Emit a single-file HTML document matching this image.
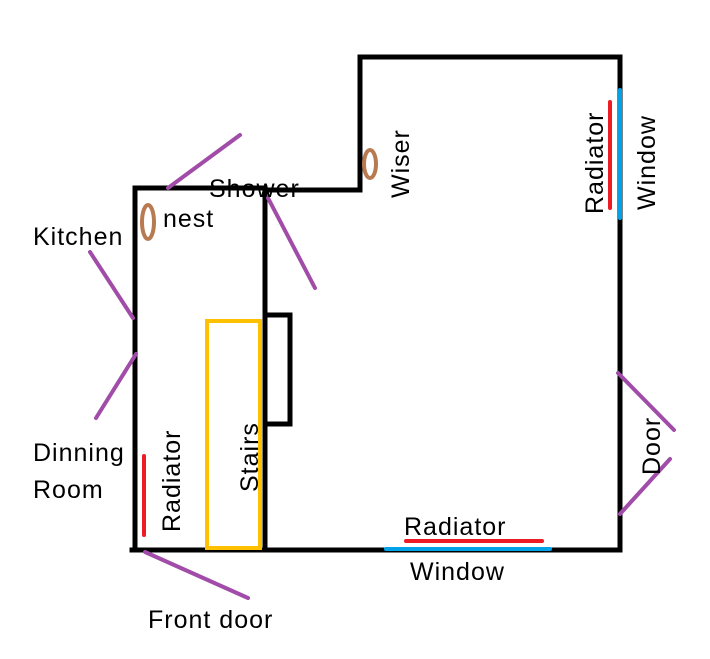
<!DOCTYPE html>
<html><head><style>
html,body{margin:0;padding:0;background:#fff;}
svg{display:block;}
text{font-family:"Liberation Sans",sans-serif;font-size:25px;letter-spacing:1px;fill:#000;}
</style></head><body>
<svg width="710" height="659" viewBox="0 0 710 659" xmlns="http://www.w3.org/2000/svg">
<g stroke="#000" stroke-width="5" fill="none" stroke-linecap="square">
<polyline points="135,550 135,188 265,188 265,190 360,190 360,57 620,57 620,550 132,550"/>
<line x1="265" y1="190" x2="265" y2="550"/>
<polyline points="266,315 290,315 290,424 266,424"/>
</g>
<rect x="207" y="321" width="53" height="227" stroke="#ffc000" stroke-width="4" fill="none"/>
<g stroke="#a04ca8" stroke-width="4" stroke-linecap="round">
<line x1="168" y1="188" x2="240" y2="135"/>
<line x1="268" y1="198" x2="315" y2="288"/>
<line x1="90" y1="252" x2="133" y2="318"/>
<line x1="96" y1="418" x2="136" y2="354"/>
<line x1="145" y1="552" x2="248" y2="598"/>
<line x1="618" y1="373" x2="674" y2="430"/>
<line x1="620" y1="514" x2="670" y2="459"/>
</g>
<g stroke="#b87a50" stroke-width="4" fill="none">
<ellipse cx="148" cy="222" rx="6" ry="17"/>
<ellipse cx="370" cy="164" rx="6" ry="14"/>
</g>
<g stroke-width="4" stroke-linecap="round">
<line x1="620" y1="90" x2="620" y2="218" stroke="#00a2e8"/>
<line x1="610" y1="102" x2="610" y2="208" stroke="#ed1c24"/>
<line x1="144" y1="456" x2="144" y2="535" stroke="#ed1c24"/>
<line x1="406" y1="541" x2="542" y2="541" stroke="#ed1c24"/>
<line x1="386" y1="549" x2="550" y2="549" stroke="#00a2e8"/>
</g>
<text x="33" y="245">Kitchen</text>
<text x="163" y="227">nest</text>
<text x="209" y="197">Shower</text>
<text x="33" y="461">Dinning</text>
<text x="33" y="498">Room</text>
<text x="148" y="628">Front door</text>
<text x="404" y="535">Radiator</text>
<text x="410" y="580">Window</text>
<text transform="translate(409,198) rotate(-90)">Wiser</text>
<text transform="translate(603,214) rotate(-90)">Radiator</text>
<text transform="translate(655,210) rotate(-90)">Window</text>
<text transform="translate(660,475) rotate(-90)">Door</text>
<text transform="translate(180,532) rotate(-90)">Radiator</text>
<text transform="translate(258,492) rotate(-90)">Stairs</text>
</svg>
</body></html>
